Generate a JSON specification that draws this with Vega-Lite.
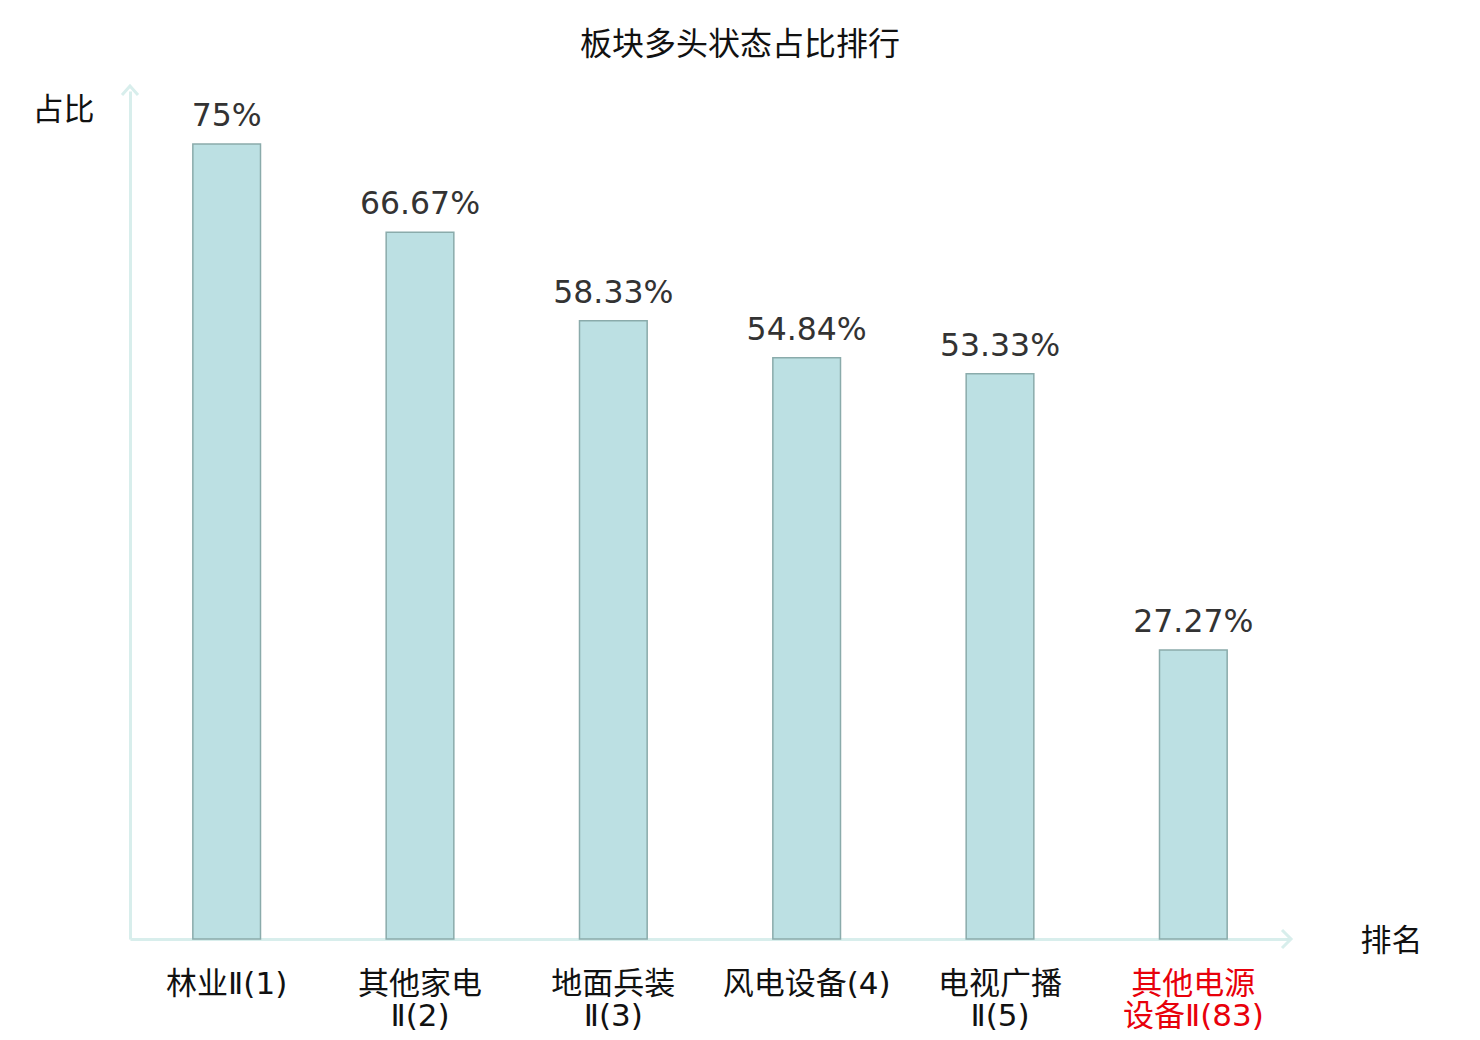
{
  "$schema": "https://vega.github.io/schema/vega-lite/v6.json",
  "width": 1160,
  "height": 848,
  "autosize": "none",
  "padding": {"left": 130, "top": 91, "right": 190, "bottom": 101},
  "background": "white",
  "title": {
    "text": "板块多头状态占比排行",
    "anchor": "middle",
    "dx": 30,
    "offset": -14,
    "baseline": "bottom",
    "font": "Noto Sans CJK SC",
    "fontSize": 32,
    "fontWeight": "normal",
    "color": "#111"
  },
  "config": {
    "view": {"stroke": null},
    "font": "DejaVu Sans"
  },
  "data": {
    "values": [
      {"sector": "林业Ⅱ(1)", "ratio": 0.75},
      {"sector": "其他家电|Ⅱ(2)", "ratio": 0.6667},
      {"sector": "地面兵装|Ⅱ(3)", "ratio": 0.5833},
      {"sector": "风电设备(4)", "ratio": 0.5484},
      {"sector": "电视广播|Ⅱ(5)", "ratio": 0.5333},
      {"sector": "其他电源|设备Ⅱ(83)", "ratio": 0.2727}
    ]
  },
  "layer": [
    {
      "mark": {"type": "bar", "fill": "#bce0e3", "stroke": "#8aabab", "strokeWidth": 1.5},
      "encoding": {
        "x": {
          "field": "sector",
          "type": "nominal",
          "sort": null,
          "scale": {"paddingInner": 0.65, "paddingOuter": 0.325},
          "axis": {
            "title": "排名",
            "titleAngle": 0,
            "titleX": 1261,
            "titleY": 2,
            "titleAlign": "center",
            "titleBaseline": "middle",
            "titleFont": "Noto Sans CJK SC",
            "titleFontSize": 31,
            "titleFontWeight": "normal",
            "titleColor": "#111",
            "labelAngle": 0,
            "labelExpr": "split(datum.label, '|')",
            "labelFont": "DejaVu Sans, Noto Sans CJK SC",
            "labelFontSize": 31,
            "labelLineHeight": 32,
            "labelPadding": 30,
            "labelColor": {"expr": "datum.label == '其他电源|设备Ⅱ(83)' ? '#e8000b' : '#111'"},
            "ticks": false,
            "domainColor": "#d8eeec",
            "domainWidth": 3
          }
        },
        "y": {
          "field": "ratio",
          "type": "quantitative",
          "scale": {"domain": [0, 0.8]},
          "axis": {
            "title": "占比",
            "titleAngle": 0,
            "titleX": -67,
            "titleY": 19,
            "titleAlign": "center",
            "titleBaseline": "middle",
            "titleFont": "Noto Sans CJK SC",
            "titleFontSize": 31,
            "titleFontWeight": "normal",
            "titleColor": "#111",
            "labels": false,
            "ticks": false,
            "grid": false,
            "domainColor": "#d8eeec",
            "domainWidth": 3
          }
        }
      }
    },
    {
      "mark": {"type": "text", "baseline": "alphabetic", "dy": -18, "font": "DejaVu Sans", "fontSize": 31.5, "color": "#333"},
      "encoding": {
        "x": {"field": "sector", "type": "nominal", "sort": null},
        "y": {"field": "ratio", "type": "quantitative"},
        "text": {"field": "ratio", "type": "quantitative", "format": ".2~%"}
      }
    },
    {
      "data": {"values": [{"end": "top"}]},
      "mark": {"type": "point", "shape": "M-0.8,0.4L0,-0.5L0.8,0.4", "size": 400, "filled": false, "stroke": "#d8eeec", "strokeWidth": 3, "opacity": 1},
      "encoding": {
        "x": {"value": 0},
        "y": {"value": 0}
      }
    },
    {
      "data": {"values": [{"end": "right"}]},
      "mark": {"type": "point", "shape": "M-0.8,-0.9L0.1,0L-0.8,0.9", "size": 400, "filled": false, "stroke": "#d8eeec", "strokeWidth": 3, "opacity": 1},
      "encoding": {
        "x": {"value": "width"},
        "y": {"value": "height"}
      }
    }
  ]
}
